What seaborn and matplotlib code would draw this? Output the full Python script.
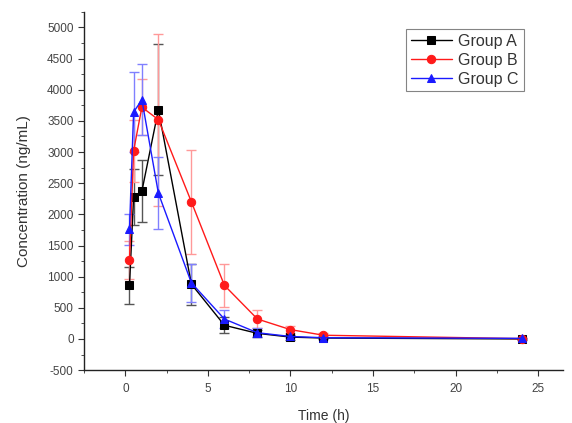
import numpy as np
import pandas as pd
import matplotlib
matplotlib.use('Agg')
import matplotlib.pyplot as plt
import seaborn as sns
from matplotlib.ticker import MultipleLocator

# Dados (tempo em horas, concentração em ng/mL)
tempo = [0.25, 0.5, 1, 2, 4, 6, 8, 10, 12, 24]
grupo_a = [860, 2280, 2370, 3680, 880, 220, 90, 30, 15, 0]
grupo_b = [1270, 3020, 3720, 3520, 2200, 860, 320, 150, 60, 5]
grupo_c = [1760, 3640, 3840, 2340, 900, 320, 100, 40, 20, 10]
dp_a = [300, 450, 500, 1050, 330, 130, 60, 40, 20, 10]
dp_b = [300, 500, 450, 1380, 830, 350, 150, 60, 40, 10]
dp_c = [250, 640, 570, 580, 300, 150, 70, 30, 20, 10]

grupos = ['Group A', 'Group B', 'Group C']
medias = [grupo_a, grupo_b, grupo_c]
desvios = [dp_a, dp_b, dp_c]
cores = ['black', '#ff1a1a', '#1a1aff']
cores_barra = ['#555555', '#ff9999', '#8080ff']
marcadores = ['s', 'o', '^']

df = pd.concat([
    pd.DataFrame({'Time': tempo, 'Conc': m, 'SD': s, 'Grupo': g})
    for g, m, s in zip(grupos, medias, desvios)
])

sns.set_style('white')
plt.rcParams['font.family'] = ['Liberation Sans', 'DejaVu Sans']
plt.rcParams['axes.unicode_minus'] = False

fig = plt.figure(figsize=(5.72, 4.23), dpi=100)
ax = fig.add_axes([0.147, 0.125, 0.837, 0.847])

for g, cor, cor_b, mk in zip(grupos, cores, cores_barra, marcadores):
    sub = df[df['Grupo'] == g]
    ax.errorbar(sub['Time'], sub['Conc'], yerr=sub['SD'], fmt='none',
                ecolor=cor_b, elinewidth=1, capsize=3.5, capthick=1, zorder=1)
    sns.lineplot(data=sub, x='Time', y='Conc', color=cor, marker=mk,
                 markersize=6, markeredgecolor=cor, linewidth=1,
                 label=g, ax=ax, errorbar=None, zorder=2)

ax.set_xlim(-2.5, 26.5)
ax.set_ylim(-500, 5250)
ax.xaxis.set_major_locator(MultipleLocator(5))
ax.xaxis.set_minor_locator(MultipleLocator(2.5))
ax.yaxis.set_major_locator(MultipleLocator(500))
ax.yaxis.set_minor_locator(MultipleLocator(250))
ax.tick_params(which='both', direction='out', left=True, bottom=True,
               colors='#333333', labelcolor='#444444', labelsize=8.5)
ax.tick_params(which='major', length=4)
ax.tick_params(which='minor', length=2.5)
ax.tick_params(axis='x', pad=5)

for lado in ['top', 'right']:
    ax.spines[lado].set_visible(False)
for lado in ['left', 'bottom']:
    ax.spines[lado].set_color('#222222')
    ax.spines[lado].set_linewidth(1)

ax.set_xlabel('Time (h)', fontsize=10, color='#333333', labelpad=10)
ax.set_ylabel('Concentration (ng/mL)', fontsize=11, color='#333333', labelpad=12)

leg = ax.legend(loc='upper right', bbox_to_anchor=(0.935, 0.975), fontsize=11.5,
                frameon=True, fancybox=False, edgecolor='#666666',
                handlelength=2.6, borderpad=0.3, labelspacing=0.25,
                handletextpad=0.4)
leg.get_frame().set_linewidth(0.8)
for t in leg.get_texts():
    t.set_color('#333333')

fig.savefig('out.png', dpi=100)
